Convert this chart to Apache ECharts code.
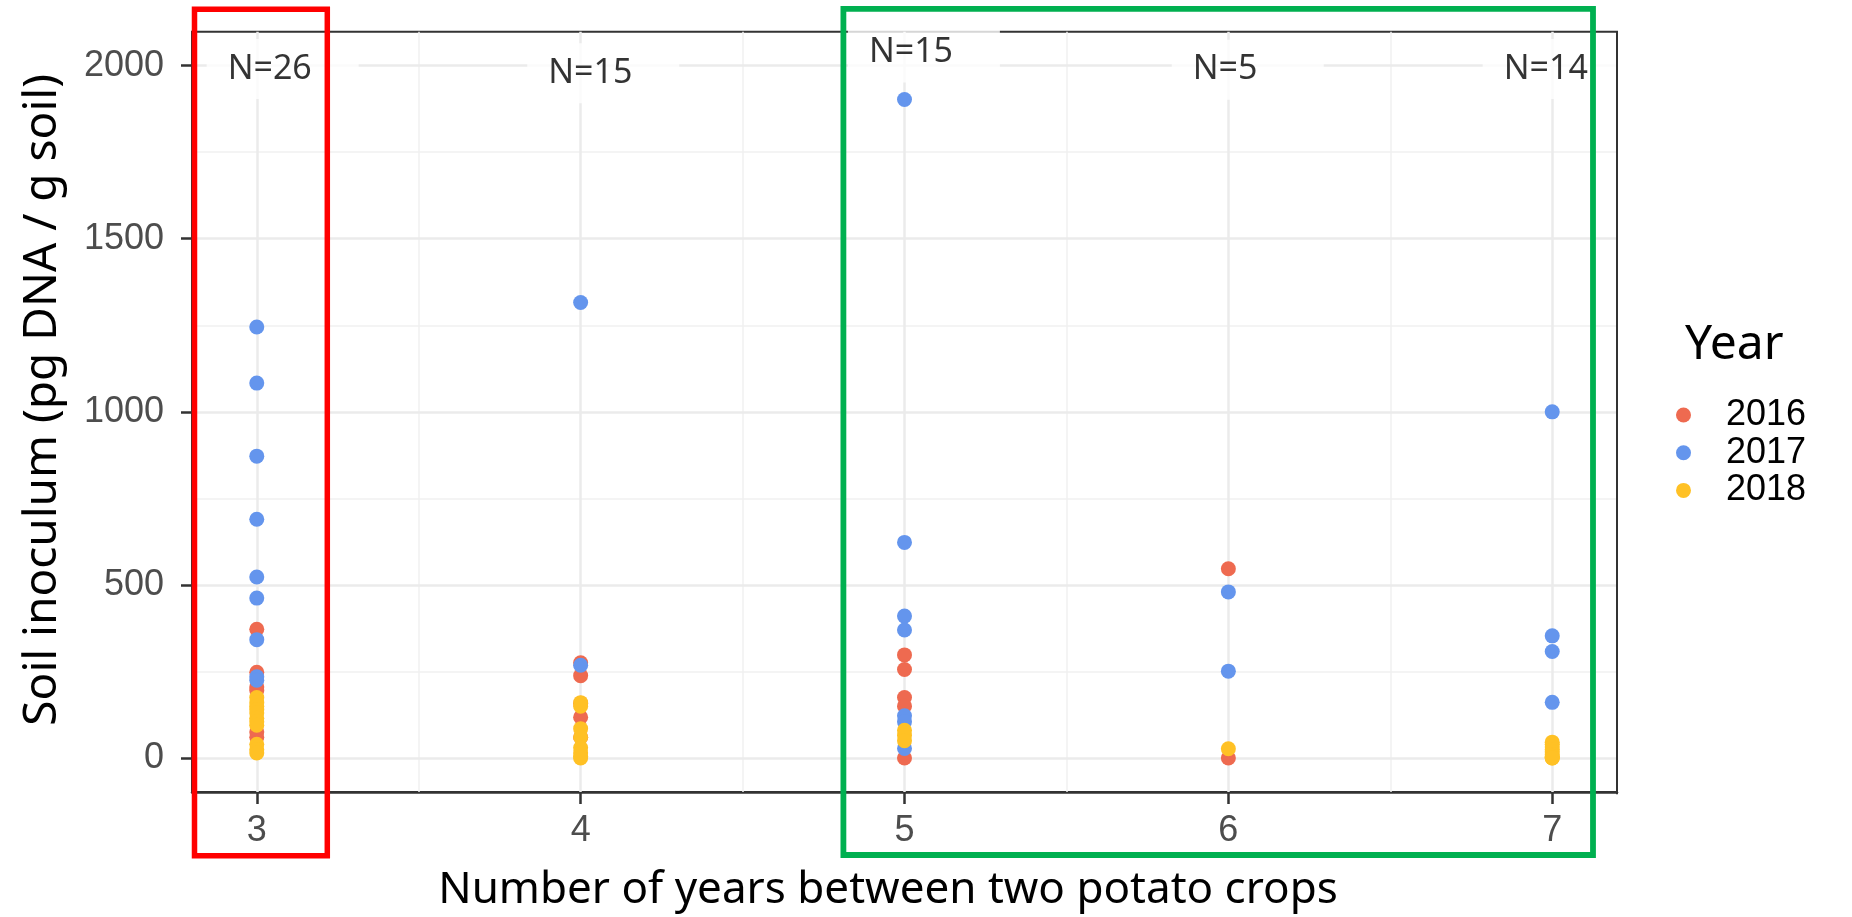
<!DOCTYPE html>
<html>
<head>
<meta charset="utf-8">
<script src="https://cdn.jsdelivr.net/npm/echarts@6/dist/echarts.min.js"></script>
<style>
html,body{margin:0;padding:0;background:#fff;}
#chart{width:1852px;height:917px;}
</style>
</head>
<body>
<div id="chart"></div>
<script>
// ---- data ----
const gaps = [3, 4, 5, 6, 7];
const years = ['2016', '2017', '2018'];
// values per gap (3,4,5,6,7) for each year
const v2016 = [[372, 248, 205, 195, 75, 60], [275, 238, 158, 118, 60], [298, 256, 175, 150, 0], [547, 0], []];
const v2017 = [[1245, 1083, 872, 690, 523, 462, 342, 235, 225], [1316, 268], [1902, 623, 410, 370, 122, 105, 28], [480, 251], [1000, 353, 308, 161]];
const v2018 = [[175, 160, 150, 140, 130, 115, 105, 95, 40, 25, 15], [160, 150, 85, 60, 30, 15, 5, 0], [80, 65, 50], [27], [46, 40, 32, 25, 18, 10, 5, 2, 0, 0]];
const nText = ['N=26', 'N=15', 'N=15', 'N=5', 'N=14'];
const nX = [3.04, 4.03, 5.02, 5.99, 6.98];
const nY = [1990, 1978, 2038, 1988, 1990];
const yTicks = [0, 500, 1000, 1500, 2000];
const yMinor = [250, 750, 1250, 1750];
const xMinor = [3.5, 4.5, 5.5, 6.5];

const yearColors = ['#EE6A50', '#6495ED', '#FFC125'];

function flatten(v) {
  const out = [];
  v.forEach((arr, i) => arr.forEach(val => out.push([gaps[i], val])));
  return out;
}

const labelFont = '34px "Noto Sans"';
const ctx = document.createElement('canvas').getContext('2d');
ctx.font = labelFont;

const chart = echarts.init(document.getElementById('chart'), null, {renderer: 'canvas'});

const majorStyle = {color: '#EBEBEB', width: 2.5, type: 'solid'};
const minorStyle = {color: '#F0F0F0', width: 1.5, type: 'solid'};

const gridLines = []
  .concat(yMinor.map(v => ({yAxis: v, lineStyle: minorStyle})))
  .concat(xMinor.map(v => ({xAxis: v, lineStyle: minorStyle})))
  .concat(yTicks.map(v => ({yAxis: v, lineStyle: majorStyle})))
  .concat(gaps.map(v => ({xAxis: v, lineStyle: majorStyle})));

const series = [{
  name: 'gridlines',
  type: 'line',
  data: [],
  z: 1,
  silent: true,
  markLine: {
    silent: true,
    z: 1,
    symbol: ['none', 'none'],
    label: {show: false},
    animation: false,
    data: gridLines
  }
}];

[v2016, v2017, v2018].forEach((v, k) => {
  series.push({
    name: years[k],
    type: 'scatter',
    data: flatten(v),
    symbol: 'circle',
    symbolSize: 15,
    itemStyle: {color: yearColors[k], opacity: 1},
    z: 3
  });
});

series.push({
  name: 'N',
  type: 'scatter',
  symbolSize: 0,
  z: 2,
  silent: true,
  data: nText.map((t, i) => ({
    value: [nX[i], nY[i]],
    label: {offset: [-ctx.measureText(t).width / 2 - 21, 0]}
  })),
  label: {
    show: true,
    position: 'inside',
    formatter: p => nText[p.dataIndex],
    align: 'left',
    verticalAlign: 'middle',
    width: 110,
    overflow: 'none',
    lineHeight: 36,
    padding: [12, 21, 12, 21],
    backgroundColor: '#FFFFFF',
    color: '#000000',
    fontFamily: 'Noto Sans',
    fontSize: 34
  }
});

const option = {
  animation: false,
  backgroundColor: '#FFFFFF',
  grid: {
    left: 192, right: 235, top: 31.7, bottom: 122.7,
    show: true, borderColor: '#333333', borderWidth: 2, backgroundColor: 'transparent'
  },
  xAxis: {
    type: 'value', min: 2.8, max: 7.2,
    name: 'Number of years between two potato crops',
    nameLocation: 'middle', nameGap: 76,
    nameTextStyle: {fontFamily: 'Noto Sans', fontSize: 44, color: '#000', padding: [0, 33, 0, 0]},
    axisLine: {show: true, onZero: false, lineStyle: {color: '#333333', width: 2.5}},
    axisTick: {show: true, customValues: gaps, length: 12, lineStyle: {color: '#333333', width: 2.5}},
    axisLabel: {customValues: gaps, formatter: v => String(v), fontFamily: 'Liberation Sans', fontSize: 36, color: '#4D4D4D', margin: 21},
    splitLine: {show: false}
  },
  yAxis: {
    type: 'value', min: -98, max: 2098,
    name: 'Soil inoculum (pg DNA / g soil)',
    nameLocation: 'middle', nameGap: 126,
    nameTextStyle: {fontFamily: 'Noto Sans', fontSize: 46, color: '#000', padding: [0, 0, 0, 24]},
    axisLine: {show: false, onZero: false},
    axisTick: {show: true, customValues: yTicks, length: 11, lineStyle: {color: '#333333', width: 2.5}},
    axisLabel: {customValues: yTicks, formatter: v => String(v), fontFamily: 'Liberation Sans', fontSize: 36, color: '#4D4D4D', margin: 28},
    splitLine: {show: false}
  },
  legend: {
    data: years,
    orient: 'vertical',
    left: 1671, top: 392,
    icon: 'circle',
    itemWidth: 75, itemHeight: 15, itemGap: 1.7,
    textStyle: {fontFamily: 'Liberation Sans', fontSize: 36, color: '#000', lineHeight: 36, padding: 0},
    selectedMode: false
  },
  graphic: [
    {type: 'text', left: 1685, top: 321, z: 50,
     style: {text: 'Year', font: '48px "Noto Sans"', fill: '#000'}},
    {type: 'line', z: 60, shape: {x1: 1617, y1: 31.7, x2: 1617, y2: 794.3},
     style: {stroke: '#333333', lineWidth: 2}},
    {type: 'rect', z: 100, shape: {x: 194.5, y: 9.2, width: 132.8, height: 846.6},
     style: {fill: 'none', stroke: '#FF0000', lineWidth: 5.5}},
    {type: 'rect', z: 100, shape: {x: 843.4, y: 8.8, width: 749.6, height: 846.2},
     style: {fill: 'none', stroke: '#00B050', lineWidth: 5.8}}
  ],
  series: series
};

chart.setOption(option);
</script>
</body>
</html>
